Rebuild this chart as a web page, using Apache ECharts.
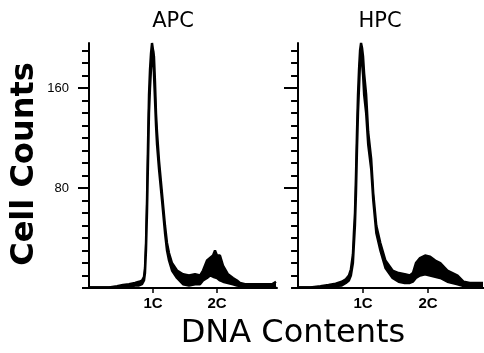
<!DOCTYPE html>
<html>
<head>
<meta charset="utf-8">
<script src="https://cdn.jsdelivr.net/npm/echarts@6/dist/echarts.min.js"></script>
<style>
  html, body { margin: 0; padding: 0; background: #fff; }
  #chart { width: 484px; height: 353px; }
</style>
</head>
<body>
<div id="chart"></div>
<script>
// histogram channels, with the low / high edge of the noisy trace
const apcChannel = [0, 10, 20, 28, 34, 40, 46, 50, 53, 55, 56, 57, 58, 59, 60, 61, 62, 63, 64, 65, 66, 67, 68, 70, 73, 76, 78, 80, 83, 88, 94, 100, 106, 111, 114, 118, 121, 124, 126, 128, 131, 134, 139, 144, 148, 151, 156, 165, 175, 183, 187]
const apcLow = [0.5, 0.5, 0.5, 0.5, 1, 1, 2, 2, 3, 6, 12, 30, 60, 100, 140, 160, 175, 185, 190, 170, 150, 130, 115, 95, 70, 44, 30, 22, 14, 8, 3, 2, 3, 3, 6, 8, 10, 9, 10, 8, 6, 5, 4, 3, 2, 1.5, 1, 1, 1, 1, 2]
const apcHigh = [0.5, 0.5, 0.5, 1.5, 2.5, 3, 4, 5, 6, 9, 16, 36, 70, 115, 155, 175, 188, 196, 196, 185, 165, 140, 125, 102, 76, 50, 36, 28, 20, 14, 11, 10, 11, 10, 14, 22, 24, 26, 30, 26, 26, 18, 11, 8, 6, 4, 3, 3, 3, 3, 5]

const hpcChannel = [0, 12, 22, 30, 37, 43, 47, 50, 52, 54, 55, 56, 57, 58, 59, 60, 61, 62, 63, 64, 65, 67, 69, 72, 74, 77, 81, 86, 93, 99, 105, 110, 113, 116, 120, 125, 130, 135, 140, 147, 152, 157, 163, 169, 175, 182]
const hpcLow = [0.5, 0.5, 0.5, 1, 1.5, 2, 4, 6, 10, 20, 35, 50, 75, 110, 140, 160, 180, 190, 180, 170, 155, 140, 115, 95, 70, 44, 30, 16, 8, 5, 4, 4, 5, 8, 10, 11, 10, 9, 8, 5, 4, 3, 1.5, 1.5, 1.5, 1.5]
const hpcHigh = [0.5, 0.5, 1.5, 2.5, 3.5, 5, 7, 10, 15, 27, 45, 60, 90, 125, 155, 175, 190, 196, 192, 185, 172, 155, 125, 103, 76, 50, 36, 22, 14, 12, 11, 10, 12, 20, 24, 26, 25, 22, 20, 14, 12, 10, 5, 4, 4, 4]

const yTicks = [0, 10, 20, 30, 40, 50, 60, 70, 80, 90, 100, 110, 120, 130, 140, 150, 160, 170, 180, 190]
const yLabels = [80, 160]
const xTickChannels = [64, 128]
const xTickLabels = ['1C', '2C']
const panelTitles = ['APC', 'HPC']

const chart = echarts.init(document.getElementById('chart'))

const pairs = (xs, ys) => xs.map((x, i) => [x, ys[i]])

// upper edge filled black, lower edge filled white on top of it -> black band
const traceSeries = (idx, xs, lo, hi) => [
  {
    type: 'line',
    xAxisIndex: idx,
    yAxisIndex: idx * 2,
    z: 2,
    data: pairs(xs, hi),
    symbol: 'none',
    lineStyle: { color: '#000', width: 2.4 },
    areaStyle: { color: '#000', opacity: 1 },
    silent: true,
  },
  {
    type: 'line',
    xAxisIndex: idx,
    yAxisIndex: idx * 2,
    z: 3,
    data: pairs(xs, lo),
    symbol: 'none',
    lineStyle: { color: '#000', width: 2.4 },
    areaStyle: { color: '#fff', opacity: 1 },
    silent: true,
  },
]

const xAxis = (idx, min, max) => ({
  type: 'value',
  gridIndex: idx,
  min: min,
  max: max,
  z: 10,
  axisLine: { lineStyle: { color: '#000', width: 2 } },
  axisTick: { customValues: xTickChannels, length: 5, lineStyle: { color: '#000', width: 1.5 } },
  axisLabel: {
    customValues: xTickChannels,
    formatter: (v) => xTickLabels[xTickChannels.indexOf(v)] || '',
    color: '#000',
    fontFamily: 'Liberation Sans',
    fontWeight: 'bold',
    fontSize: 15,
    margin: 8,
  },
  splitLine: { show: false },
})

const yAxes = (idx, showLabels) => [
  {
    type: 'value',
    gridIndex: idx,
    min: 0,
    max: 196,
    z: 10,
    axisLine: { show: true, lineStyle: { color: '#000', width: 2 } },
    axisTick: { customValues: yTicks, length: 7, lineStyle: { color: '#000', width: 2 } },
    axisLabel: {
      show: showLabels,
      customValues: yLabels,
      color: '#000',
      fontFamily: 'Liberation Sans',
      fontSize: 13,
      margin: 20,
    },
    splitLine: { show: false },
  },
  {
    // longer ticks for the labelled values
    type: 'value',
    gridIndex: idx,
    position: 'left',
    offset: 0,
    min: 0,
    max: 196,
    z: 10,
    axisLine: { show: false },
    axisTick: { customValues: yLabels, length: 11, lineStyle: { color: '#000', width: 2 } },
    axisLabel: { show: false },
    splitLine: { show: false },
  },
]

const option = {
  animation: false,
  grid: [
    { left: 89, top: 43, width: 188, height: 245 },
    { left: 295, top: 43, width: 189, height: 245 },
  ],
  xAxis: [xAxis(0, 0, 188), xAxis(1, -3, 183)],
  yAxis: [...yAxes(0, true), ...yAxes(1, false)],
  series: [
    ...traceSeries(0, apcChannel, apcLow, apcHigh),
    ...traceSeries(1, hpcChannel, hpcLow, hpcHigh),
  ],
  graphic: [
    {
      type: 'text', x: 173, y: 22,
      style: { text: panelTitles[0], fill: '#000', fontSize: 21, fontFamily: 'DejaVu Sans', align: 'center', verticalAlign: 'middle' },
    },
    {
      type: 'text', x: 380, y: 22,
      style: { text: panelTitles[1], fill: '#000', fontSize: 21, fontFamily: 'DejaVu Sans', align: 'center', verticalAlign: 'middle' },
    },
    {
      type: 'text', x: 25, y: 164, rotation: Math.PI / 2,
      style: { text: 'Cell Counts', fill: '#000', fontSize: 32, fontWeight: 'bold', fontFamily: 'DejaVu Sans', align: 'center', verticalAlign: 'middle' },
    },
    {
      type: 'text', x: 293, y: 334,
      style: { text: 'DNA Contents', fill: '#000', fontSize: 32, fontFamily: 'DejaVu Sans', align: 'center', verticalAlign: 'middle' },
    },
  ],
}

chart.setOption(option)
</script>
</body>
</html>
